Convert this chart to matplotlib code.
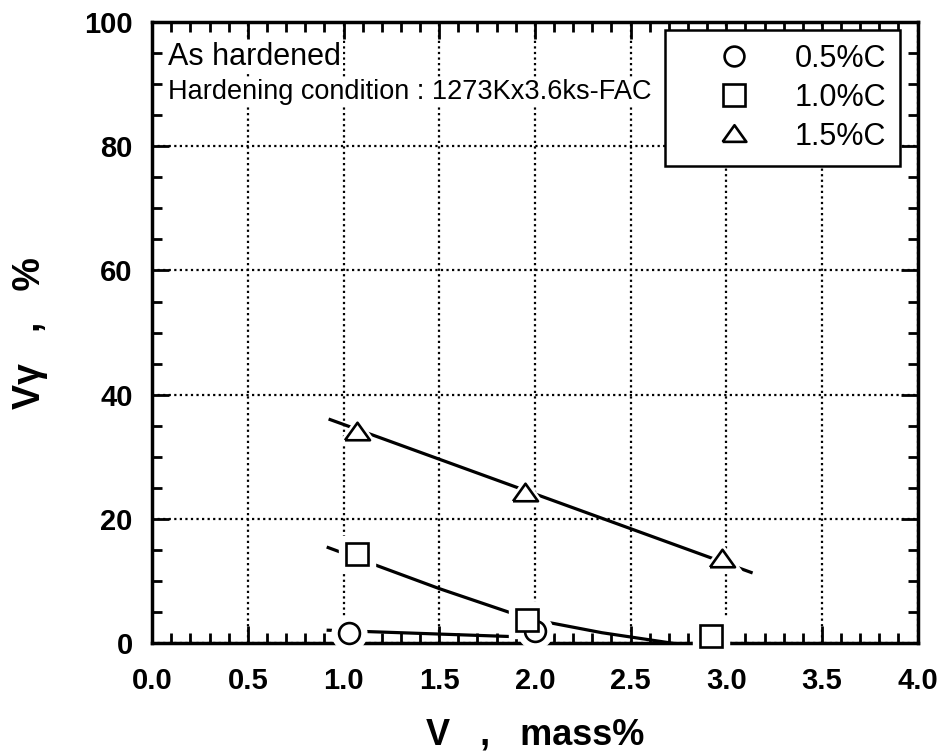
import matplotlib
matplotlib.use('Agg')
import matplotlib.pyplot as plt
from matplotlib.ticker import MultipleLocator, FormatStrFormatter

plt.rcParams['font.family'] = ['Liberation Sans', 'DejaVu Sans']

# measured points (V mass%, retained austenite %)
c05_x = [1.03, 2.00]
c05_y = [1.6, 2.0]
c10_x = [1.07, 1.96, 2.92]
c10_y = [14.3, 3.7, 1.1]
c15_x = [1.07, 1.95, 2.98]
c15_y = [34.0, 24.2, 13.5]

# hand drawn trend lines
fit05_x = [0.92, 1.95]
fit05_y = [2.1, 1.0]
fit10_x = [0.92, 1.50, 1.96, 2.35, 2.72]
fit10_y = [15.4, 8.8, 4.0, 1.7, 0.0]
fit15_x = [0.93, 3.13]
fit15_y = [36.0, 11.4]

labels = ["0.5%C", "1.0%C", "1.5%C"]

# flat triangle like the original
tri = [(-1, -0.62), (1, -0.62), (0, 0.78), (-1, -0.62)]
markers = ["o", "s", tri]
sizes = [15, 16, 18]

fig = plt.figure(figsize=(9.45, 7.55), dpi=100)
ax = fig.add_axes([0.161, 0.148, 0.81, 0.823])

# trend lines
for fx, fy in [(fit05_x, fit05_y), (fit10_x, fit10_y), (fit15_x, fit15_y)]:
    ax.plot(fx, fy, color='black', lw=2.3, zorder=3)

# points with a white halo so the line breaks around each marker
data = [(c05_x, c05_y), (c10_x, c10_y), (c15_x, c15_y)]
for (x, y), m, lab, s in zip(data, markers, labels, sizes):
    ax.plot(x, y, ls='none', marker=m, ms=s + 10, mfc='white', mec='white',
            zorder=4, clip_on=False)
    ax.plot(x, y, ls='none', marker=m, ms=s, mfc='white', mec='black',
            mew=1.9, label=lab, zorder=5, clip_on=False)

ax.set_xlim(0, 4)
ax.set_ylim(0, 100)
ax.xaxis.set_major_locator(MultipleLocator(0.5))
ax.xaxis.set_minor_locator(MultipleLocator(0.1))
ax.xaxis.set_major_formatter(FormatStrFormatter('%.1f'))
ax.yaxis.set_major_locator(MultipleLocator(20))
ax.yaxis.set_minor_locator(MultipleLocator(5))
ax.tick_params(which='both', direction='in', top=True, right=True, width=2)
ax.tick_params(which='major', length=12, labelsize=21)
ax.tick_params(axis='x', which='major', pad=17)
ax.tick_params(axis='y', which='major', pad=14)
ax.tick_params(which='minor', length=7)
for t in ax.get_xticklabels() + ax.get_yticklabels():
    t.set_fontweight('bold')
for sp in ax.spines.values():
    sp.set_linewidth(2.5)

ax.grid(True, which='major', color='black', ls=(0, (1, 1.5)), lw=1.6)
ax.set_axisbelow(True)

ax.set_xlabel("V   ,   mass%", fontsize=26, fontweight='bold', labelpad=16)
ax.set_ylabel("Vγ   ,   %", fontsize=27, fontweight='bold', labelpad=26)

box = dict(facecolor='white', edgecolor='none', pad=1.5)
ax.text(0.021, 0.931, "As hardened", transform=ax.transAxes, fontsize=22,
        va='baseline', ha='left', bbox=box)
ax.text(0.021, 0.876, "Hardening condition : 1273Kx3.6ks-FAC", transform=ax.transAxes,
        fontsize=19.5, va='baseline', ha='left', bbox=box)

leg = ax.legend(loc='upper right', bbox_to_anchor=(0.977, 0.987), fontsize=22,
                frameon=True, fancybox=False, edgecolor='black', framealpha=1,
                handletextpad=0.2, borderpad=0.45, labelspacing=0.3,
                handlelength=3.6, markerscale=0.95, borderaxespad=0)
leg.get_frame().set_linewidth(1.8)

fig.savefig("out.png", dpi=100)
